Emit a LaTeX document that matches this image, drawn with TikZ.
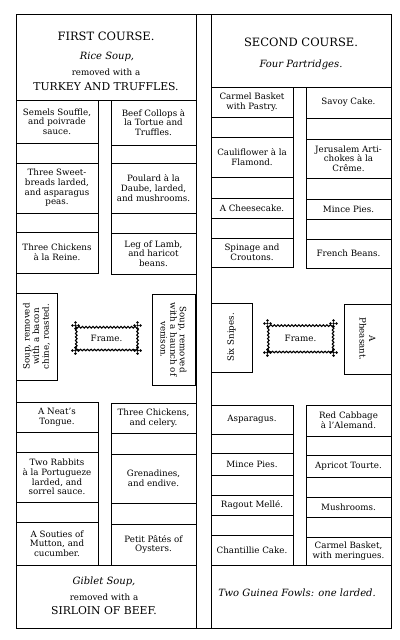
\documentclass[tikz,border=0pt]{standalone}
\usepackage{fontspec}
\setmainfont{DejaVu Serif}
\usetikzlibrary{decorations.pathmorphing}

\begin{document}
\begin{tikzpicture}[x=1pt, y=-1pt,
    rule/.style={line width=0.9pt},
    cell/.style={draw, line width=0.8pt, inner sep=1pt, align=center, font=\fontsize{8.7}{9.7}\selectfont},
    colL/.style={cell, minimum width=82pt},
    colR/.style={cell, minimum width=85pt},
    head/.style={align=center, font=\fontsize{11.5}{13}\selectfont},
    caps/.style={font=\fontsize{10.8}{12}\selectfont},
    dish/.style={font=\fontsize{10}{12}\selectfont\itshape},
    small/.style={font=\fontsize{8.7}{10}\selectfont},
    frame/.style={draw, line width=1.1pt, decorate, decoration={snake, segment length=3.5pt, amplitude=0.8pt}, font=\fontsize{8.7}{10}\selectfont},
    knot/.pic={\fill (0,0) circle (1.3pt); \fill (3pt,0) circle (1.4pt); \fill (-3pt,0) circle (1.4pt); \fill (0,3pt) circle (1.4pt); \fill (0,-3pt) circle (1.4pt);}
]
\useasboundingbox (0,0) rectangle (399,640);

\draw[rule] (16,14) rectangle (196,628);
\draw[rule] (211,14) rectangle (391,628);
\draw[rule] (196,14) -- (211,14);
\draw[rule] (196,628) -- (211,628);
\draw[rule] (16,100) -- (196,100);
\draw[rule] (211,87) -- (391,87);
\draw[rule] (16,565) -- (196,565);
\draw[rule] (211,565) -- (391,565);

\node[head] (first) at (106,36) {FIRST COURSE.};
\node[dish] (ricesoup) at (107,57) {Rice Soup,};
\node[small] (removeA) at (106,72) {removed with a};
\node[caps] (turkey) at (106,87) {TURKEY AND TRUFFLES.};

\node[colL, minimum height=43pt] (semels) at (57,121.5) {Semels Souffle,\\and poivrade\\sauce.};
\node[colL, minimum height=20pt] (gapA1) at (57,153) {};
\node[colL, minimum height=50pt] (sweetbreads) at (57,188) {Three Sweet-\\breads larded,\\and asparagus\\peas.};
\node[colL, minimum height=19pt] (gapA2) at (57,222.5) {};
\node[colL, minimum height=41pt] (reine) at (57,252.5) {Three Chickens\\à la Reine.};

\node[colR, minimum height=45pt] (collops) at (153.5,122.5) {Beef Collops à\\la Tortue and\\Truffles.};
\node[colR, minimum height=18pt] (gapB1) at (153.5,154) {};
\node[colR, minimum height=50pt] (poulard) at (153.5,188) {Poulard à la\\Daube, larded,\\and mushrooms.};
\node[colR, minimum height=20pt] (gapB2) at (153.5,223) {};
\node[colR, minimum height=41pt] (lamb) at (153.5,253.5) {Leg of Lamb,\\and haricot\\beans.};

\node[cell, rotate=90, minimum width=87pt, minimum height=41pt] (soupA) at (36.5,336.5) {Soup, removed\\with a bacon\\chine, roasted.};
\node[cell, rotate=-90, minimum width=91pt, minimum height=43pt] (soupB) at (173.5,339.5) {Soup, removed\\with a haunch of\\venison.};
\node[frame, minimum width=61pt, minimum height=24pt] (frameA) at (106.5,338) {Frame.};
\pic at (frameA.north west) {knot};
\pic at (frameA.north east) {knot};
\pic at (frameA.south west) {knot};
\pic at (frameA.south east) {knot};

\node[colL, minimum height=30pt] (tongue) at (57,417) {A Neat's\\Tongue.};
\node[colL, minimum height=20pt] (gapC1) at (57,442) {};
\node[colL, minimum height=50pt] (rabbits) at (57,477) {Two Rabbits\\à la Portugueze\\larded, and\\sorrel sauce.};
\node[colL, minimum height=20pt] (gapC2) at (57,512) {};
\node[colL, minimum height=43pt] (mutton) at (57,543.5) {A Souties of\\Mutton, and\\cucumber.};

\node[colR, minimum height=30pt] (celery) at (153.5,418) {Three Chickens,\\and celery.};
\node[colR, minimum height=21pt] (gapD1) at (153.5,443.5) {};
\node[colR, minimum height=49pt] (grenadines) at (153.5,478.5) {Grenadines,\\and endive.};
\node[colR, minimum height=21pt] (gapD2) at (153.5,513.5) {};
\node[colR, minimum height=41pt] (oysters) at (153.5,544.5) {Petit Pâtés of\\Oysters.};

\node[dish] (giblet) at (104,582) {Giblet Soup,};
\node[small] (removeB) at (104,597) {removed with a};
\node[caps] (sirloin) at (104,611) {SIRLOIN OF BEEF.};

\node[head] (second) at (301,42) {SECOND COURSE.};
\node[dish] (partridges) at (301,65) {Four Partridges.};

\node[colL, minimum height=30pt] (carmelA) at (252,102) {Carmel Basket\\with Pastry.};
\node[colL, minimum height=20pt] (gapE1) at (252,127) {};
\node[colL, minimum height=40pt] (cauliflower) at (252,157) {Cauliflower à la\\Flamond.};
\node[colL, minimum height=21pt] (gapE2) at (252,187.5) {};
\node[colL, minimum height=20pt] (cheesecake) at (252,208) {A Cheesecake.};
\node[colL, minimum height=20pt] (gapE3) at (252,228) {};
\node[colL, minimum height=29pt] (spinage) at (252,252.5) {Spinage and\\Croutons.};

\node[colR, minimum height=31pt] (savoy) at (348.5,102.5) {Savoy Cake.};
\node[colR, minimum height=21pt] (gapF1) at (348.5,128.5) {};
\node[colR, minimum height=39pt] (jerusalem) at (348.5,158.5) {Jerusalem Arti-\\chokes à la\\Crême.};
\node[colR, minimum height=21pt] (gapF2) at (348.5,188.5) {};
\node[colR, minimum height=20pt] (minceA) at (348.5,209) {Mince Pies.};
\node[colR, minimum height=20pt] (gapF3) at (348.5,229) {};
\node[colR, minimum height=29pt] (french) at (348.5,253.5) {French Beans.};

\node[cell, rotate=90, minimum width=69pt, minimum height=41pt] (snipes) at (231.5,337.5) {Six Snipes.};
\node[cell, rotate=-90, minimum width=70pt, minimum height=47pt] (pheasant) at (367.5,339) {A\\Pheasant.};
\node[frame, minimum width=65pt, minimum height=28pt] (frameB) at (300.5,338) {Frame.};
\pic at (frameB.north west) {knot};
\pic at (frameB.north east) {knot};
\pic at (frameB.south west) {knot};
\pic at (frameB.south east) {knot};

\node[colL, minimum height=29pt] (asparagus) at (252,419.5) {Asparagus.};
\node[colL, minimum height=19pt] (gapG1) at (252,443.5) {};
\node[colL, minimum height=22pt] (minceB) at (252,464) {Mince Pies.};
\node[colL, minimum height=20pt] (gapG2) at (252,485) {};
\node[colL, minimum height=20pt] (ragout) at (252,505) {Ragout Mellé.};
\node[colL, minimum height=20pt] (gapG3) at (252,525) {};
\node[colL, minimum height=30pt] (chantillie) at (252,550) {Chantillie Cake.};

\node[colR, minimum height=31pt] (cabbage) at (348.5,420.5) {Red Cabbage\\à l'Alemand.};
\node[colR, minimum height=19pt] (gapH1) at (348.5,445.5) {};
\node[colR, minimum height=22pt] (apricot) at (348.5,466) {Apricot Tourte.};
\node[colR, minimum height=20pt] (gapH2) at (348.5,487) {};
\node[colR, minimum height=20pt] (mushrooms) at (348.5,507) {Mushrooms.};
\node[colR, minimum height=20pt] (gapH3) at (348.5,527) {};
\node[colR, minimum height=28pt] (carmelB) at (348.5,551) {Carmel Basket,\\with meringues.};

\node[dish] (guinea) at (297,593) {Two Guinea Fowls: one larded.};
\end{tikzpicture}
\end{document}
